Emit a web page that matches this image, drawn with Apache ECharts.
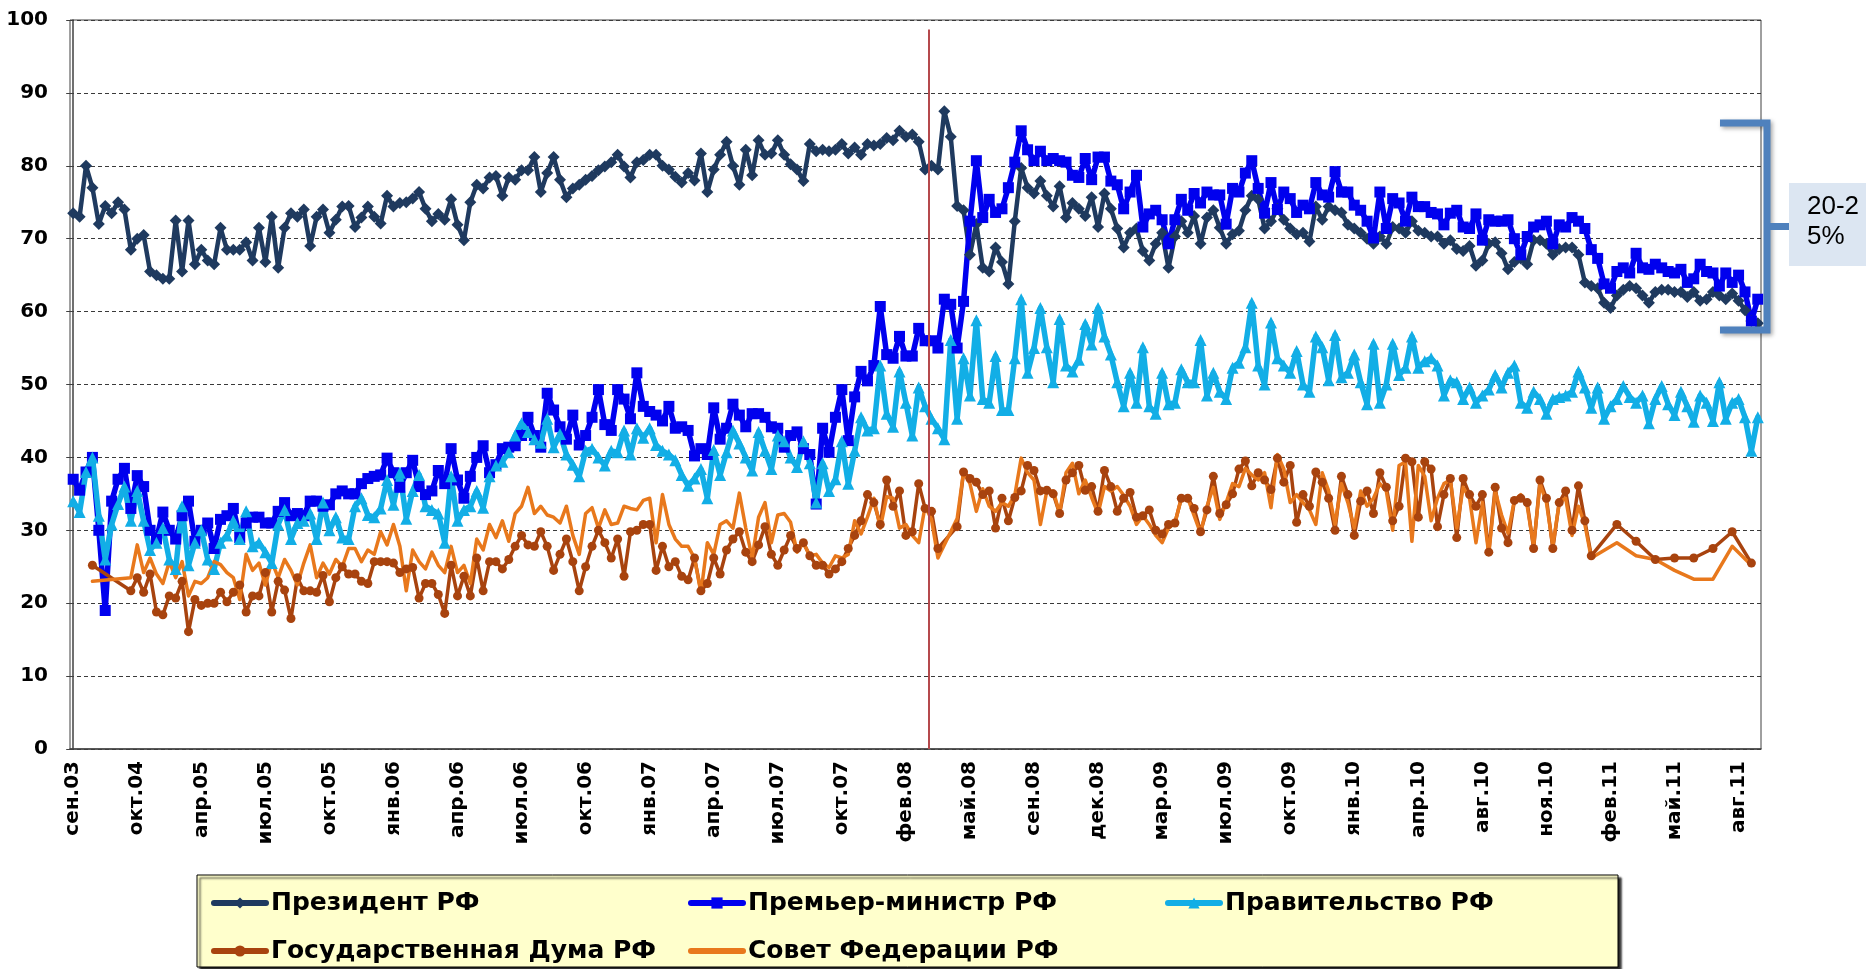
<!DOCTYPE html>
<html>
<head>
<meta charset="utf-8">
<title>Одобрение деятельности органов власти</title>
<script src="https://cdn.jsdelivr.net/npm/echarts@6.0.0/dist/echarts.min.js"></script>
<style>
html, body { margin: 0; padding: 0; background: #fff; }
#chart { width: 1866px; height: 969px; }
</style>
</head>
<body>
<div id="chart"></div>
<script>
// подписи оси X — каждая 10-я точка опроса
const tickLabels = ['сен.03', 'окт.04', 'апр.05', 'июл.05', 'окт.05', 'янв.06', 'апр.06', 'июл.06', 'окт.06',
    'янв.07', 'апр.07', 'июл.07', 'окт.07', 'фев.08', 'май.08', 'сен.08', 'дек.08', 'мар.09', 'июл.09',
    'окт.09', 'янв.10', 'апр.10', 'авг.10', 'ноя.10', 'фев.11', 'май.11', 'авг.11']
const yTicks = [0, 100, 10]

const president = [
    73.5, 73, 80, 77, 72, 74.5, 73.5, 75, 74, 68.5,
    70, 70.5, 65.5, 65, 64.5, 64.5, 72.5, 65.5, 72.5, 66.5,
    68.5, 67, 66.5, 71.5, 68.5, 68.5, 68.5, 69.5, 67, 71.5,
    66.8, 73, 66, 71.5, 73.5, 73, 74, 69, 73, 74,
    70.8, 72.6, 74.4, 74.5, 71.6, 72.9, 74.4, 73, 72.1, 75.9,
    74.4, 74.9, 75, 75.5, 76.4, 74.1, 72.4, 73.4, 72.6, 75.4,
    71.9, 69.8, 75, 77.4, 76.9, 78.4, 78.6, 75.9, 78.4, 78.1,
    79.4, 79.4, 81.2, 76.4, 79, 81.2, 78.1, 75.7, 76.9, 77.4,
    78.1, 78.6, 79.4, 79.9, 80.5, 81.5, 79.9, 78.4, 80.5, 80.8,
    81.5, 81.5, 80, 79.5, 78.5, 77.7, 79, 78, 81.7, 76.4,
    79.5, 81.5, 83.3, 80, 77.4, 82.2, 78.7, 83.5, 81.5, 81.7,
    83.5, 81.5, 80.2, 79.5, 77.9, 83, 82, 82.2, 82, 82.2,
    83, 81.7, 82.5, 81.5, 83, 82.8, 83, 83.8, 83.5, 84.8,
    84, 84.3, 83.3, 79.5, 80, 79.5, 87.5, 84, 74.5, 73.9,
    67.8, 72, 66, 65.5, 68.8, 66.8, 63.8, 72.4, 79.7, 77,
    76.2, 77.9, 75.9, 74.4, 77.2, 72.9, 74.9, 74.1, 73.1, 75.7,
    71.6, 76.2, 74.1, 71.4, 68.8, 70.8, 71.4, 68.3, 67, 69.3,
    70.8, 66, 70.3, 72.4, 70.8, 73.1, 69.3, 72.9, 73.9, 71.5,
    69.3, 70.6, 71.1, 73.9, 75.9, 75.4, 71.4, 72.4, 74.1, 72.6,
    71.4, 70.6, 70.8, 69.6, 74.4, 72.6, 74.4, 73.9, 73.6, 71.9,
    71.4, 70.8, 70, 69.3, 70.3, 69.3, 71.6, 71.4, 70.8, 72.4,
    71.1, 70.8, 70.3, 70.3, 69.3, 69.8, 68.6, 68.3, 69, 66.3,
    67, 69.3, 69.5, 68, 65.8, 66.8, 67.3, 66.5, 69.8, 69.8,
    69.3, 67.8, 68.6, 68.8, 68.8, 67.8, 64, 63.5, 63.2, 61.2,
    60.5, 62.2, 63, 63.5, 63.2, 62.2, 61.2, 62.7, 63, 63,
    62.7, 62.7, 62, 62.7, 61.5, 61.7, 62.7, 62.2, 61.7, 62.5,
    61.5, 60.2, 58.7, 58.4
]

const premier = [
    37, 35.5, 38, 40, 30, 19, 34, 37, 38.5, 33,
    37.5, 36, 30, 28.8, 32.5, 30, 28.8, 32, 34, 28.5,
    30, 31, 27.5, 31.5, 32, 33, 29, 31, 31.8, 31.8,
    31, 31, 32.6, 33.8, 32, 32.3, 32, 34, 34, 33.3,
    33.5, 35, 35.4, 35, 35, 36.4, 37.1, 37.4, 37.6, 39.9,
    37.9, 35.9, 37.9, 39.6, 36, 34.9, 35.4, 38.2, 36.4, 41.2,
    36.9, 34.4, 37.4, 40, 41.6, 37.9, 39, 41.2, 41.4, 41.6,
    43, 45.5, 43, 41.4, 48.8, 46.5, 44.2, 42.5, 45.8, 41.7,
    43, 45.5, 49.3, 44.5, 43.7, 49.3, 48, 45.3, 51.6, 47,
    46.3, 45.8, 45, 47, 44, 44.2, 43.7, 40.2, 41.2, 40.4,
    46.8, 42.5, 44, 47.3, 45.8, 44.2, 46, 46, 45.5, 44.2,
    44, 41.4, 43, 43.5, 41.2, 40.4, 33.6, 44, 40.7, 45.5,
    49.3, 42.3, 48.3, 51.8, 50.5, 52.6, 60.7, 54.1, 53.6, 56.6,
    53.9, 53.9, 57.7, 56, 56, 55, 61.7, 61, 55, 61.4,
    72.4, 80.7, 72.9, 75.4, 73.6, 74.1, 77, 80.5, 84.8, 82.2,
    80.7, 82, 80.7, 81, 80.7, 80.5, 78.7, 78.4, 81, 78.1,
    81.2, 81.2, 77.9, 77.4, 74.1, 76.4, 78.7, 71.6, 73.4, 73.9,
    72.6, 69.3, 72.6, 75.4, 73.9, 76.2, 74.9, 76.4, 76, 76,
    72, 76.9, 76.4, 79, 80.7, 76.9, 73.5, 77.7, 74, 76.4,
    75.5, 73.6, 74.6, 74.1, 77.7, 76, 75.7, 79.2, 76.4, 76.4,
    74.6, 73.9, 72.4, 70.1, 76.4, 71.4, 75.5, 74.9, 72.4, 75.7,
    74.4, 74.4, 73.6, 73.4, 71.9, 73.5, 73.9, 71.6, 71.4, 73.4,
    69.8, 72.6, 72.4, 72.4, 72.6, 70, 67.8, 70.3, 71.6, 71.9,
    72.4, 69.3, 71.9, 71.6, 72.9, 72.4, 71.4, 68.5, 67.3, 63.8,
    63.2, 65.5, 66, 65.3, 68, 66, 65.8, 66.5, 66, 65.5,
    65.3, 65.8, 64, 64.5, 66.5, 65.5, 65.3, 63.5, 65.3, 64,
    65, 62.7, 58.7, 61.7
]

const government = [
    34, 32.5, 38, 40, 32, 26, 30.8, 33.6, 36, 31.3,
    35.4, 31.3, 27.3, 28.3, 30.3, 26, 24.7, 33.3, 25.2, 28.3,
    30, 26, 24.7, 28.3, 29.3, 31.3, 28.8, 32.6, 27.8, 28.3,
    27, 25.5, 30.8, 32.8, 28.8, 31, 31.3, 32.3, 28.8, 33.8,
    30, 31.8, 29, 28.8, 33.3, 34.4, 32.1, 31.8, 33, 36.9,
    33.5, 37.9, 31.6, 35.4, 37.6, 33.3, 32.8, 32.3, 28.3, 37.4,
    31.3, 32.8, 33.3, 35.4, 33.1, 37.4, 38.9, 39.4, 40.7, 43,
    44.7, 43.5, 42.5, 42, 45.3, 41.4, 43.2, 40.4, 39, 37.4,
    40.9, 41.2, 40, 38.9, 40.9, 40.7, 43.7, 40.4, 44, 42.7,
    44, 41.7, 40.9, 40.4, 39.6, 37.6, 36.1, 37.1, 38.4, 34.4,
    41, 37.6, 40.7, 43.7, 41.9, 40, 38.2, 43.5, 40.9, 38.4,
    43, 42.2, 40, 38.7, 42.2, 39.2, 33.8, 39.2, 35.4, 37,
    42.2, 36.4, 40.9, 45.5, 43.7, 44, 52.6, 46, 44.2, 51.8,
    47.5, 43, 49.6, 47, 45.3, 44, 42.5, 56.1, 45.3, 53.6,
    48.5, 58.8, 48, 47.5, 53.9, 46.5, 46.5, 53.6, 61.7, 51.6,
    55, 60.5, 55.1, 50.3, 59, 52.6, 51.8, 53.4, 58.3, 55.5,
    60.5, 56.6, 54.1, 50.3, 47, 51.6, 47.5, 55.1, 47, 46,
    51.6, 47.3, 47.5, 52.1, 50.3, 50.3, 56.1, 48.5, 51.6, 49,
    48, 52.3, 53, 55.1, 61.2, 52.6, 50, 58.5, 53.6, 52.6,
    51.6, 54.6, 50, 49, 56.6, 55.1, 50.6, 56.8, 51, 51.6,
    54.1, 50.3, 47.3, 55.6, 47.5, 50, 55.6, 51.3, 52.3, 56.6,
    52.3, 53.2, 53.6, 52.6, 48.5, 50.6, 50.3, 48, 49.6, 47.5,
    48.5, 49.3, 51.3, 49.6, 51.6, 52.6, 47.5, 46.8, 49, 48,
    46, 48, 48.3, 48.5, 49, 51.8, 49.6, 46.8, 49.6, 45.3,
    47, 48, 49.8, 48.3, 47.5, 48.5, 44.7, 48, 49.8, 47.3,
    45.8, 49, 47, 44.9, 48.5, 47.5, 45, 50.3, 45.3, 47.5,
    48, 45.5, 40.9, 45.5
]

const duma = [
    null, null, null, 25.2, null, null, null, null, null, 21.7,
    23.5, 21.5, 24, 18.8, 18.4, 21, 20.7, 23, 16.1, 20.5,
    19.7, 20, 20, 21.5, 20.2, 21.5, 22.5, 18.8, 21, 21,
    24.2, 18.8, 23, 21.8, 17.9, 23.5, 21.7, 21.7, 21.5, 23.8,
    20.2, 23.5, 25, 24, 24, 23, 22.7, 25.7, 25.7, 25.7,
    25.5, 24.2, 24.7, 24.9, 20.7, 22.7, 22.7, 21.2, 18.6, 25.2,
    21, 23.7, 21, 26.2, 21.7, 25.7, 25.7, 24.7, 26, 27.8,
    29.3, 28, 27.8, 29.8, 27.8, 24.5, 26.7, 28.8, 25.7, 21.7,
    25, 27.8, 30, 28.3, 26.2, 28.8, 23.7, 29.8, 30, 30.8,
    30.8, 24.5, 27.8, 25, 25.7, 23.7, 23.2, 26.2, 21.7, 22.7,
    26.2, 24, 27.3, 28.8, 29.8, 27, 25.7, 28, 30.5, 26.7,
    25.2, 27.3, 29.3, 27.5, 28.3, 26.5, 25.2, 25.2, 24, 24.7,
    25.7, 27.5, 29.3, 31.3, 34.9, 33.8, 30.8, 36.9, 33.3, 35.4,
    29.3, 29.8, 36.4, 33, 32.6, 27.5, null, null, 30.5, 38,
    37.1, 36.6, 34.9, 35.4, 30.3, 34.4, 31.3, 34.5, 35.4, 38.9,
    38.2, 35.4, 35.5, 35, 32.3, 36.9, 37.9, 38.9, 35.5, 36,
    32.6, 38.2, 36, 32.6, 34.4, 35.2, 31.8, 32, 32.8, 30,
    29.5, 30.8, 31, 34.4, 34.4, 33, 29.8, 32.8, 37.4, 32.3,
    33.5, 35, 38.4, 39.5, 36.1, 37.9, 36.9, 35.6, 39.9, 36.6,
    38.9, 31.1, 34.9, 33.3, 38, 36.6, 34.4, 30, 37.4, 34.9,
    29.3, 34, 35.4, 32.3, 37.9, 35.9, 31.3, 33.3, 39.9, 39.4,
    31.8, 39.4, 38.4, 30.5, 34.9, 37.1, 29, 37.1, 34.9, 33.3,
    34.9, 27, 35.9, 30.3, 28.3, 34.1, 34.4, 33.8, 27.5, 36.9,
    34.4, 27.5, 33.8, 35.4, 30, 36.1, 31.3, 26.5, null, null,
    null, 30.8, null, null, 28.5, null, null, 26, null, null,
    26.2, null, null, 26.2, null, null, 27.5, null, null, 29.8,
    null, null, 25.5, null
]

const federationCouncil = [
    null, null, null, 23, null, null, null, null, null, 23.5,
    28, 24.2, 26.2, 24, 22.7, 25.7, 23.5, 25.7, 21, 23,
    22.7, 23.5, 25.7, 25.3, 24.2, 23.5, 20.5, 26.7, 24.5, 25.5,
    22.5, 25.7, 23.5, 26, 24.5, 22.5, 25.5, 28, 23.5, 25.5,
    24, 26, 25, 27.5, 27.5, 25.7, 27.3, 26.7, 29.8, 28,
    30.8, 27.8, 21.7, 27.3, 25.7, 24.7, 27, 25.2, 24.2, 27.8,
    24.2, 25.2, 22.7, 28.8, 27.3, 30.8, 29, 31.3, 28.5, 32.3,
    33.3, 35.9, 32.3, 33.3, 32.1, 31.8, 31, 33.3, 29.3, 26.7,
    32.3, 33.1, 30.3, 32.8, 30.8, 31, 33.3, 33, 32.8, 34.1,
    34.4, 28.3, 34.9, 30.8, 28.8, 27.8, 27.8, 26.2, 21.4, 28.3,
    26.7, 30.8, 31.3, 30.3, 35.1, 30.3, 26.2, 31.8, 33.8, 28.3,
    32.1, 32.3, 31.1, 27, 28.3, 26.5, 26.7, 25.5, 24.9, 26.5,
    26.2, 26.7, 31.3, 29.5, 31.8, 34.4, 30.3, 34.6, 34.4, 30.3,
    30.8, 29.3, 28.3, 33.3, 31.5, 26.2, null, null, 31.6, 38,
    36.4, 32.6, 35.7, 33.3, 32.6, 33.8, 33.3, 34.8, 39.9, 37.9,
    36.9, 30.8, 35.4, 35.4, 32.3, 37.9, 39.2, 35, 36.9, 34.5,
    32.3, 36, 35.4, 36, 34.8, 33.3, 30.8, 32, 30.8, 29.3,
    28.3, 30.3, 31, 34.4, 34.4, 32, 29.6, 33.3, 35.9, 31.5,
    33.8, 36.4, 36, 38.5, 37.6, 36.9, 37.9, 33.1, 40.4, 38.4,
    33.8, 34.9, 33.8, 32.8, 30.8, 37.9, 35.4, 30.8, 36.4, 33.8,
    30.3, 35.4, 33.3, 34.4, 36.4, 35.4, 30, 38.9, 39.4, 28.5,
    38.9, 37.4, 31.3, 34.4, 36.4, 36.9, 30.3, 35.9, 34.4, 28.3,
    33.8, 26.7, 35.4, 32.1, 29.6, 34.1, 34.9, 33.3, 27.8, 36.4,
    33.8, 27.8, 33.8, 34.4, 29.3, 33.3, 30.8, 26.2, null, null,
    null, 28.3, null, null, 26.5, null, null, 26, null, null,
    24.5, null, null, 23.3, null, null, 23.3, null, null, 27.8,
    null, null, 25.2, null
]

// номер опроса, на котором проведена вертикальная черта (смена президента)
const dividerAt = 133.5

const seriesNames = ['Президент РФ', 'Премьер-министр РФ', 'Правительство РФ', 'Государственная Дума РФ', 'Совет Федерации РФ']
const weeks = president.map((v, i) => String(i))

const chart = echarts.init(document.getElementById('chart'))

function line (name, data, color, symbol, size, width) {
    return {
        name: name,
        type: 'line',
        data: data,
        symbol: symbol,
        symbolSize: size,
        showAllSymbol: true,
        connectNulls: true,
        animation: false,
        itemStyle: { color: color },
        lineStyle: { color: color, width: width, join: 'round', cap: 'round' },
        emphasis: { disabled: true }
    }
}

const axisFont = { fontFamily: 'DejaVu Sans', fontWeight: 'bold', fontSize: 20, color: '#000' }

chart.setOption({
    animation: false,
    backgroundColor: '#fff',
    grid: {
        left: 70, right: 105, top: 20, bottom: 220,
        show: true, borderColor: '#404040', borderWidth: 1
    },
    xAxis: [{
        type: 'category',
        data: weeks,
        boundaryGap: true,
        axisLine: { lineStyle: { color: '#404040', width: 1.5 } },
        axisTick: { show: false },
        splitLine: { show: false },
        axisLabel: Object.assign({
            interval: 9,
            rotate: 90,
            margin: 12,
            formatter: (v, idx) => tickLabels[idx / 10] || ''
        }, axisFont)
    }, {
        // невидимая ось для вертикальной черты между точками
        type: 'value',
        min: -0.5,
        max: weeks.length - 0.5,
        show: false
    }],
    yAxis: {
        type: 'value',
        min: yTicks[0],
        max: yTicks[1],
        interval: yTicks[2],
        axisLine: { show: true, lineStyle: { color: '#404040', width: 1.5 } },
        axisTick: { show: true, length: 7, lineStyle: { color: '#404040' } },
        axisLabel: Object.assign({ margin: 22 }, axisFont),
        splitLine: { lineStyle: { color: '#3a3a3a', type: [4, 3], width: 1 } }
    },
    legend: {
        data: seriesNames.slice(0, 4).concat([{ name: seriesNames[4], itemStyle: { opacity: 0 } }]),
        left: 206,
        top: 885,
        width: 1500,
        itemWidth: 52,
        itemHeight: 14,
        itemGap: 22,
        lineStyle: { width: 6 },
        textStyle: {
            fontFamily: 'DejaVu Sans', fontWeight: 'bold', fontSize: 25,
            color: '#000', width: 395, lineHeight: 26
        }
    },
    graphic: [
        {
            type: 'rect',
            z: -1,
            shape: { x: 197, y: 875, width: 1421, height: 92 },
            style: {
                fill: '#FFFFCC', stroke: '#000', lineWidth: 1,
                shadowBlur: 2, shadowOffsetX: 3, shadowOffsetY: 3, shadowColor: 'rgba(0,0,0,0.85)'
            }
        },
        {
            type: 'polyline',
            z: 10,
            shape: { points: [[1720, 123], [1767, 123], [1767, 330], [1720, 330]] },
            style: {
                fill: null, stroke: '#4F81BD', lineWidth: 7, lineJoin: 'miter',
                shadowBlur: 4, shadowOffsetX: 2, shadowOffsetY: 2, shadowColor: 'rgba(0,0,0,0.35)'
            }
        },
        {
            type: 'line',
            z: 10,
            shape: { x1: 1767, y1: 226.5, x2: 1790, y2: 226.5 },
            style: { stroke: '#4F81BD', lineWidth: 7 }
        },
        {
            type: 'rect',
            z: 10,
            shape: { x: 1789, y: 183, width: 80, height: 83 },
            style: { fill: '#DCE6F2' }
        },
        {
            type: 'text',
            z: 11,
            x: 1807,
            y: 192,
            style: {
                text: '20-2\n5%',
                fontFamily: 'Liberation Sans',
                fontSize: 26,
                lineHeight: 30,
                fill: '#000'
            }
        }
    ],
    series: [
        {
            name: 'divider',
            type: 'line',
            xAxisIndex: 1,
            data: [],
            markLine: {
                silent: true,
                symbol: 'none',
                animation: false,
                label: { show: false },
                lineStyle: { color: '#B5494C', width: 2, type: 'solid' },
                data: [[{ coord: [dividerAt, 0] }, { coord: [dividerAt, 98.7] }]]
            }
        },
        line(seriesNames[0], president, '#1F3A5F', 'diamond', 12, 4.5),
        line(seriesNames[1], premier, '#0000EE', 'rect', 11, 5.5),
        line(seriesNames[2], government, '#12AEE6', 'triangle', 12, 5.5),
        line(seriesNames[3], duma, '#A8430E', 'circle', 9, 3.5),
        line(seriesNames[4], federationCouncil, '#E8781C', 'none', 0, 3.5)
    ]
})
</script>
</body>
</html>
